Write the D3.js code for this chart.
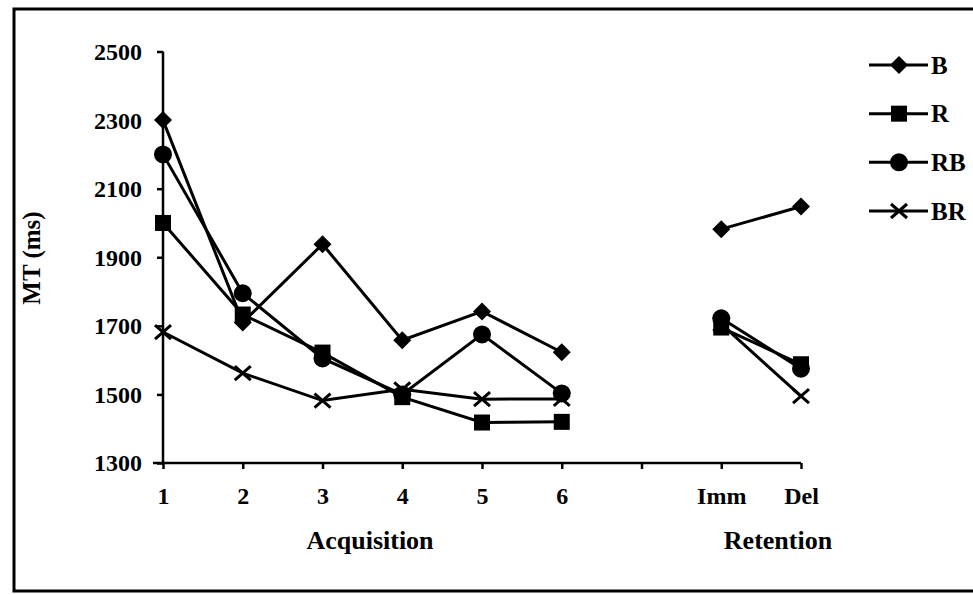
<!DOCTYPE html>
<html><head><meta charset="utf-8">
<script src="https://cdn.jsdelivr.net/npm/d3@7"></script>
<style>body{margin:0;background:#fff}svg{display:block}text{font-family:"Liberation Serif","Times New Roman",serif;font-weight:bold;fill:#000}</style>
</head><body><svg id="c" width="973" height="595"></svg>
<script>
const categories = ["1","2","3","4","5","6","","Imm","Del"];
const acqCats = ["1","2","3","4","5","6"];
const retCats = ["Imm","Del"];
const yTicks = [1300,1500,1700,1900,2100,2300,2500];
const seriesNames = ["B","R","RB","BR"];
const B_acq  = [2300,1710,1938,1658,1742,1623];
const B_ret  = [1982,2048];
const R_acq  = [2000,1733,1622,1492,1418,1420];
const R_ret  = [1695,1588];
const RB_acq = [2200,1795,1605,1500,1675,1503];
const RB_ret = [1722,1575];
const BR_acq = [1682,1562,1482,1515,1486,1487];
const BR_ret = [1705,1495];

const svg = d3.select("#c");
const x = d3.scalePoint().domain(categories.map((c,i)=>i)).range([163,801]);
const y = d3.scaleLinear().domain([1300,2500]).range([463,51.5]);

// frame
svg.append("rect").attr("x",14).attr("y",9).attr("width",1000).attr("height",582)
  .attr("fill","none").attr("stroke","#000").attr("stroke-width",3);

// y axis
const yAx = svg.append("g").attr("transform","translate(163,0)")
  .call(d3.axisLeft(y).tickValues(yTicks).tickSize(6).tickPadding(15).tickFormat(d3.format("d")));
yAx.select(".domain").attr("stroke-width",2.5).attr("d","M0,51.5V463");
yAx.selectAll(".tick line").attr("stroke-width",2.5);
yAx.selectAll("text").style("font-size","24px").attr("dy","0.33em");

// x axis
const xAx = svg.append("g").attr("transform","translate(0,463)")
  .call(d3.axisBottom(x).tickSize(6).tickPadding(18).tickFormat(i=>categories[i]));
xAx.select(".domain").attr("stroke-width",2.5).attr("d","M153,0H801");
xAx.selectAll(".tick line").attr("stroke-width",2.5);
xAx.selectAll("text").style("font-size","24px");

svg.append("text").attr("x",370).attr("y",549).attr("text-anchor","middle").style("font-size","26px").text("Acquisition");
svg.append("text").attr("x",778).attr("y",549).attr("text-anchor","middle").style("font-size","26px").text("Retention");
svg.append("text").attr("transform","translate(40,258) rotate(-90)").attr("text-anchor","middle").style("font-size","25px").text("MT (ms)");

const series = [
  {name:"B", acq:B_acq, ret:B_ret, m:"diamond"},
  {name:"R", acq:R_acq, ret:R_ret, m:"square"},
  {name:"RB", acq:RB_acq, ret:RB_ret, m:"circle"},
  {name:"BR", acq:BR_acq, ret:BR_ret, m:"x"}
];
function marker(g, type, cx, cy){
  if(type==="diamond") g.append("path").attr("d",`M${cx},${cy-9}L${cx+9},${cy}L${cx},${cy+9}L${cx-9},${cy}Z`).attr("fill","#000");
  else if(type==="square") g.append("rect").attr("x",cx-8).attr("y",cy-8).attr("width",16).attr("height",16).attr("fill","#000");
  else if(type==="circle") g.append("circle").attr("cx",cx).attr("cy",cy).attr("r",9).attr("fill","#000");
  else g.append("path").attr("d",`M${cx-8},${cy-7}L${cx+8},${cy+7}M${cx-8},${cy+7}L${cx+8},${cy-7}`).attr("stroke","#000").attr("stroke-width",3);
}
const line = d3.line().x(d=>x(d.i)).y(d=>y(d.v));
series.forEach(s=>{
  const g = svg.append("g");
  const a = s.acq.map((v,k)=>({i:categories.indexOf(acqCats[k]),v}));
  const r = s.ret.map((v,k)=>({i:categories.indexOf(retCats[k]),v}));
  [a,r].forEach(pts=>{
    g.append("path").datum(pts).attr("d",line).attr("fill","none").attr("stroke","#000").attr("stroke-width",3);
    pts.forEach(p=>marker(g,s.m,x(p.i),y(p.v)));
  });
});

// legend
const legY = d3.scalePoint().domain(seriesNames).range([65,211]);
series.forEach(s=>{
  const ly = legY(s.name);
  const g = svg.append("g");
  g.append("line").attr("x1",869).attr("x2",928).attr("y1",ly).attr("y2",ly).attr("stroke","#000").attr("stroke-width",3);
  marker(g,s.m,899,ly);
  g.append("text").attr("x",931).attr("y",ly).attr("dy","0.35em").style("font-size","25px").text(s.name);
});
</script></body></html>
